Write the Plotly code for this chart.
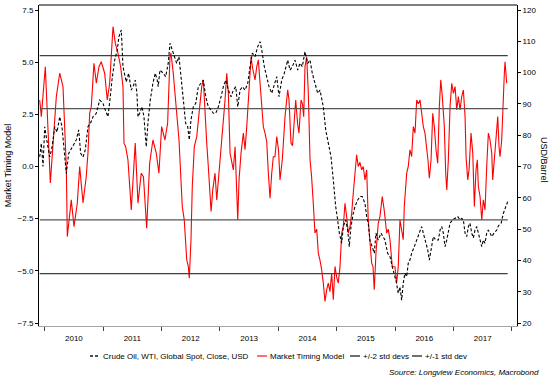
import plotly.graph_objects as go
from datetime import datetime

# ---------------- data ----------------
# time expressed as decimal years
mtm_time = [2009.914, 2009.942, 2010.010, 2010.096, 2010.199, 2010.257, 2010.313, 2010.370, 2010.387, 2010.455,
            2010.502, 2010.558, 2010.599, 2010.627, 2010.656, 2010.712, 2010.741, 2010.771, 2010.798, 2010.844,
            2010.884, 2010.930, 2010.969, 2011.027, 2011.072, 2011.113, 2011.170, 2011.209, 2011.255, 2011.301,
            2011.341, 2011.358, 2011.387, 2011.426, 2011.483, 2011.551, 2011.598, 2011.654, 2011.692, 2011.747,
            2011.798, 2011.854, 2011.911, 2011.957, 2012.003, 2012.060, 2012.106, 2012.146, 2012.163, 2012.202,
            2012.260, 2012.300, 2012.356, 2012.390, 2012.432, 2012.459, 2012.476, 2012.505, 2012.527, 2012.562,
            2012.603, 2012.659, 2012.688, 2012.716, 2012.745, 2012.774, 2012.801, 2012.830, 2012.848, 2012.877,
            2012.916, 2012.945, 2012.985, 2013.031, 2013.087, 2013.116, 2013.144, 2013.173, 2013.229, 2013.259,
            2013.288, 2013.305, 2013.327, 2013.361, 2013.401, 2013.430, 2013.459, 2013.486, 2013.533, 2013.555,
            2013.601, 2013.630, 2013.658, 2013.687, 2013.716, 2013.743, 2013.772, 2013.801, 2013.829, 2013.858,
            2013.887, 2013.914, 2013.943, 2013.973, 2014.003, 2014.029, 2014.068, 2014.115, 2014.161, 2014.183,
            2014.217, 2014.243, 2014.274, 2014.298, 2014.332, 2014.354, 2014.389, 2014.414, 2014.435, 2014.457,
            2014.486, 2014.514, 2014.543, 2014.568, 2014.599, 2014.628, 2014.658, 2014.685, 2014.714, 2014.743,
            2014.771, 2014.800, 2014.829, 2014.856, 2014.885, 2014.914, 2014.942, 2014.971, 2015.000, 2015.027,
            2015.057, 2015.086, 2015.113, 2015.142, 2015.171, 2015.199, 2015.228, 2015.257, 2015.284, 2015.313,
            2015.342, 2015.370, 2015.399, 2015.428, 2015.455, 2015.485, 2015.514, 2015.541, 2015.570, 2015.599,
            2015.622, 2015.644, 2015.673, 2015.712, 2015.741, 2015.781, 2015.815, 2015.856, 2015.884, 2015.913,
            2015.952, 2015.998, 2016.027, 2016.055, 2016.084, 2016.113, 2016.140, 2016.158, 2016.199, 2016.226,
            2016.255, 2016.284, 2016.312, 2016.341, 2016.370, 2016.397, 2016.426, 2016.455, 2016.483, 2016.512,
            2016.541, 2016.563, 2016.586, 2016.615, 2016.644, 2016.671, 2016.700, 2016.729, 2016.757, 2016.781,
            2016.808, 2016.842, 2016.866, 2016.884, 2016.911, 2016.940, 2016.969, 2016.997, 2017.026, 2017.055,
            2017.082, 2017.111, 2017.140, 2017.168, 2017.197, 2017.214, 2017.243, 2017.265, 2017.299, 2017.329,
            2017.356, 2017.385, 2017.407, 2017.425, 2017.454, 2017.483, 2017.510, 2017.539, 2017.568, 2017.596,
            2017.625, 2017.654, 2017.671, 2017.699, 2017.728, 2017.757, 2017.779, 2017.796, 2017.825, 2017.842,
            2017.870, 2017.882, 2017.899, 2017.911]
mtm_value = [3.19, 2.39, 4.78, -0.79, 3.35, 4.47, 3.83, 0.00, -3.36, -1.60,
             -2.88, -1.76, 0.00, -0.96, -1.74, -0.48, 0.65, 2.57, 2.87, 4.95,
             3.99, 4.78, 5.02, 4.47, 3.19, 3.99, 6.70, 5.91, 5.43, 4.78,
             3.83, 1.12, 0.95, 0.32, -2.08, 1.12, -1.76, -0.32, -0.50, -2.96,
             0.16, 1.27, 0.64, -0.32, 1.91, 1.27, 2.09, 5.26, 5.43, 4.47,
             2.71, 1.27, -1.92, -2.56, -4.47, -4.79, -5.35, -3.51, -0.96, 0.95,
             1.43, 2.87, 3.83, 4.15, 2.39, 1.12, 0.00, -1.28, -2.16, -1.12,
             -0.32, -1.60, -0.32, 1.12, 3.19, 4.47, 3.51, 0.64, -0.16, 0.95,
             -0.96, -2.56, -0.64, 0.64, 1.60, 0.80, 1.91, 3.19, 5.26, 4.78,
             4.15, 4.78, 5.11, 3.99, 2.71, 1.91, 1.60, 1.20, -0.32, -1.52,
             -0.32, 0.47, 0.47, 1.43, 0.80, -0.64, 0.32, 2.39, 3.67, 3.20,
             1.12, 1.00, 2.23, 3.19, 2.00, 1.60, 3.19, 3.00, 2.39, 4.78,
             5.26, 3.51, 0.32, -0.40, -1.76, -3.19, -3.00, -4.15, -4.50, -4.95,
             -5.59, -6.47, -5.90, -5.59, -6.00, -5.11, -6.39, -4.79, -5.30, -5.59,
             -4.80, -3.19, -2.90, -1.76, -2.40, -3.19, -2.90, -2.24, -1.28, -0.16,
             0.56, 0.00, 0.20, -0.16, 0.00, -0.64, -0.16, -2.56, -3.83, -4.63,
             -4.80, -5.91, -4.15, -2.72, -2.40, -1.44, -2.10, -3.19, -3.00, -3.51,
             -4.79, -4.80, -5.59, -4.80, -2.56, -3.00, -3.51, -1.92, -0.32, 0.00,
             0.80, 0.48, 1.91, 1.60, 3.19, 3.00, 3.19, 2.55, 1.91, 1.60,
             0.95, 0.30, -0.56, 0.30, 2.55, 1.91, 0.80, 0.16, 2.87, 4.15,
             3.35, 1.91, -0.32, -1.12, 0.32, 2.87, 3.99, 3.50, 3.83, 2.71,
             3.35, 2.71, 3.35, 3.67, 2.39, 0.47, -0.64, -0.16, 1.60, 0.64,
             -1.92, -0.16, 0.32, -0.96, -1.44, -2.56, -1.60, -2.08, 0.00, 1.60,
             1.27, 0.64, -0.64, 0.32, 1.27, 2.39, 0.95, 0.47, 1.27, 2.87,
             4.47, 5.02, 4.30, 3.99]

oil_time = [2009.914, 2009.942, 2009.971, 2010.000, 2010.039, 2010.086, 2010.125, 2010.171, 2010.211, 2010.257,
            2010.296, 2010.330, 2010.370, 2010.411, 2010.450, 2010.502, 2010.541, 2010.582, 2010.616, 2010.656,
            2010.695, 2010.741, 2010.788, 2010.827, 2010.884, 2010.942, 2010.998, 2011.038, 2011.084, 2011.130,
            2011.152, 2011.199, 2011.243, 2011.272, 2011.312, 2011.341, 2011.370, 2011.397, 2011.438, 2011.483,
            2011.524, 2011.551, 2011.580, 2011.598, 2011.627, 2011.666, 2011.700, 2011.740, 2011.769, 2011.808,
            2011.854, 2011.894, 2011.928, 2011.945, 2011.974, 2012.031, 2012.072, 2012.116, 2012.146, 2012.185,
            2012.219, 2012.260, 2012.300, 2012.334, 2012.373, 2012.414, 2012.449, 2012.476, 2012.505, 2012.545,
            2012.586, 2012.630, 2012.676, 2012.716, 2012.757, 2012.801, 2012.848, 2012.887, 2012.928, 2012.973,
            2013.019, 2013.058, 2013.099, 2013.144, 2013.190, 2013.229, 2013.271, 2013.305, 2013.344, 2013.384,
            2013.430, 2013.476, 2013.515, 2013.555, 2013.601, 2013.647, 2013.687, 2013.716, 2013.760, 2013.801,
            2013.841, 2013.887, 2013.926, 2013.973, 2014.012, 2014.058, 2014.103, 2014.161, 2014.200, 2014.240,
            2014.286, 2014.332, 2014.371, 2014.411, 2014.457, 2014.503, 2014.543, 2014.582, 2014.628, 2014.675,
            2014.714, 2014.743, 2014.771, 2014.812, 2014.856, 2014.903, 2014.942, 2014.983, 2015.017, 2015.045,
            2015.086, 2015.113, 2015.154, 2015.188, 2015.216, 2015.245, 2015.284, 2015.313, 2015.360, 2015.399,
            2015.438, 2015.485, 2015.514, 2015.541, 2015.570, 2015.610, 2015.644, 2015.673, 2015.712, 2015.759,
            2015.798, 2015.827, 2015.873, 2015.913, 2015.952, 2015.998, 2016.027, 2016.044, 2016.055, 2016.084,
            2016.113, 2016.140, 2016.169, 2016.199, 2016.226, 2016.255, 2016.284, 2016.329, 2016.370, 2016.410,
            2016.455, 2016.483, 2016.524, 2016.558, 2016.586, 2016.615, 2016.654, 2016.695, 2016.740, 2016.769,
            2016.798, 2016.825, 2016.854, 2016.884, 2016.911, 2016.940, 2016.980, 2017.026, 2017.072, 2017.111,
            2017.140, 2017.168, 2017.197, 2017.226, 2017.253, 2017.282, 2017.311, 2017.339, 2017.368, 2017.397,
            2017.425, 2017.454, 2017.483, 2017.510, 2017.539, 2017.568, 2017.596, 2017.625, 2017.654, 2017.693,
            2017.740, 2017.767, 2017.815, 2017.853, 2017.894, 2017.928]
oil_price = [73.1, 77.4, 70.0, 82.7, 78.0, 73.1, 76.0, 82.7, 81.0, 85.9,
             82.7, 76.3, 67.8, 74.2, 75.5, 77.4, 78.5, 81.7, 74.2, 73.0,
             75.3, 82.7, 84.0, 85.9, 87.0, 91.2, 90.2, 88.0, 85.9, 93.4,
             97.6, 104.0, 107.2, 111.5, 113.6, 101.9, 99.8, 97.0, 99.8, 94.4,
             96.0, 97.6, 93.4, 85.9, 87.0, 89.1, 86.0, 76.3, 84.0, 91.2,
             96.6, 99.8, 97.6, 95.5, 100.8, 99.8, 98.7, 103.0, 109.4, 107.0,
             105.1, 103.0, 105.1, 98.7, 91.2, 83.8, 82.7, 78.5, 84.9, 89.1,
             90.2, 95.5, 96.6, 97.6, 92.3, 89.1, 88.0, 87.0, 87.0, 89.1,
             92.3, 95.5, 97.6, 94.4, 92.3, 94.4, 95.5, 89.1, 94.4, 95.5,
             94.4, 96.6, 101.9, 106.2, 105.1, 108.3, 109.9, 107.2, 101.9, 98.7,
             95.5, 93.4, 95.5, 98.7, 92.3, 97.6, 99.8, 104.0, 100.8, 101.9,
             104.0, 100.8, 103.0, 101.9, 106.7, 102.9, 104.0, 99.8, 96.6, 93.4,
             94.4, 91.2, 89.1, 81.7, 77.4, 73.1, 65.7, 57.2, 52.9, 48.7,
             45.5, 50.8, 52.9, 49.7, 44.4, 50.8, 55.0, 57.2, 59.3, 60.4,
             60.4, 58.2, 54.0, 51.9, 46.5, 44.4, 42.3, 48.7, 46.5, 48.7,
             47.6, 46.5, 42.3, 41.2, 38.0, 34.8, 32.7, 30.5, 29.5, 31.5,
             27.3, 32.7, 35.9, 34.8, 39.1, 40.1, 42.3, 44.4, 46.5, 48.7,
             50.8, 48.7, 45.5, 43.4, 40.1, 43.4, 47.6, 46.5, 46.5, 49.7,
             50.8, 48.7, 44.4, 46.5, 48.7, 51.9, 52.9, 53.4, 54.0, 52.9,
             53.4, 52.9, 48.7, 47.6, 50.8, 51.9, 48.7, 47.2, 49.7, 50.8,
             48.7, 46.5, 44.4, 46.5, 45.5, 48.7, 49.7, 48.7, 47.6, 48.7,
             49.7, 51.0, 51.9, 55.0, 57.2, 58.8]

std2_levels = [5.31, -5.13]   # +/-2 std devs (market timing model units)
std1_levels = [2.77, -2.56]   # +/-1 std dev

left_ticks = [-7.5, -5.0, -2.5, 0.0, 2.5, 5.0, 7.5]
right_ticks = [20, 30, 40, 50, 60, 70, 80, 90, 100, 110, 120]

oil_name = "Crude Oil, WTI, Global Spot, Close, USD"
mtm_name = "Market Timing Model"
std2_name = "+/-2 std devs"
std1_name = "+/-1 std dev"
source_text = "Source: Longview Economics, Macrobond"


def to_date(t):
    y = int(t)
    start = datetime(y, 1, 1)
    end = datetime(y + 1, 1, 1)
    return start + (end - start) * (t - y)


mtm_dates = [to_date(t) for t in mtm_time]
oil_dates = [to_date(t) for t in oil_time]
line_start, line_end = oil_dates[0], oil_dates[-1]

OIL_COLOR = "#000000"
MTM_COLOR = "#ff0000"
STD2_COLOR = "#404040"
STD1_COLOR = "#555555"


def hline_trace(levels, name, color):
    xs, ys = [], []
    for lv in levels:
        xs += [line_start, line_end, None]
        ys += [lv, lv, None]
    return go.Scatter(x=xs, y=ys, mode="lines", name=name, yaxis="y",
                      line=dict(color=color, width=1.3), hoverinfo="skip")


FONT = "Liberation Sans, Arial, sans-serif"

fig = go.Figure()
fig.add_trace(go.Scatter(x=mtm_dates, y=mtm_value, mode="lines", name=mtm_name, yaxis="y",
                         line=dict(color=MTM_COLOR, width=1.1)))
fig.add_trace(hline_trace(std2_levels, std2_name, STD2_COLOR))
fig.add_trace(hline_trace(std1_levels, std1_name, STD1_COLOR))
fig.add_trace(go.Scatter(x=oil_dates, y=oil_price, mode="lines", name=oil_name, yaxis="y2",
                         line=dict(color=OIL_COLOR, width=1.1, dash="3px,2px")))

# ---- legend drawn below the axis (compact symbols as in the original) ----
legend_items = [  # (name, colour, dash, symbol x0 in paper units)
    (oil_name, "#505050", "3px,2px", 0.1067),
    (mtm_name, "#ff7070", "solid", 0.4561),
    (std2_name, "#707070", "solid", 0.6506),
    (std1_name, "#707070", "solid", 0.7803),
]
LEG_Y = -0.0935
SYM_W = 0.021
shapes = [dict(type="line", xref="paper", yref="paper", x0=0, x1=1, y0=1, y1=1,
               line=dict(color="#000000", width=1))]
annotations = []
for name, col, dash, x0 in legend_items:
    shapes.append(dict(type="line", xref="paper", yref="paper", x0=x0, x1=x0 + SYM_W,
                       y0=LEG_Y, y1=LEG_Y, line=dict(color=col, width=2, dash=dash)))
    annotations.append(dict(text=name, xref="paper", yref="paper", x=x0 + SYM_W + 0.002, y=LEG_Y,
                            xanchor="left", yanchor="middle", showarrow=False,
                            font=dict(size=8, color="#000000")))

annotations.append(dict(text="USD/Barrel", xref="paper", yref="paper", x=1.0565, y=0.517,
                        xanchor="center", yanchor="middle", textangle=90, showarrow=False,
                        font=dict(size=9, color="#000000")))
annotations.append(dict(text="<i>" + source_text + "</i>", xref="paper", yref="paper",
                        x=1.05, y=-0.146, xanchor="right", yanchor="middle", showarrow=False,
                        font=dict(size=8, color="#000000")))

fig.update_layout(
    width=557, height=385,
    margin=dict(l=39, r=40, t=5, b=59, autoexpand=False),
    paper_bgcolor="white", plot_bgcolor="white",
    font=dict(family=FONT, size=8, color="#000000"),
    showlegend=False,
    xaxis=dict(type="date", range=[to_date(2009.902), to_date(2018.087)],
               dtick="M12", tick0="2010-01-01", ticklabelmode="period",
               tickformat="%Y", ticks="outside", ticklen=4, tickcolor="#404040",
               showline=True, linecolor="#a6a6a6", linewidth=1,
               showgrid=False, zeroline=False, tickfont=dict(size=8)),
    yaxis=dict(range=[-7.644, 7.74], tickvals=left_ticks, tickformat=".1f",
               ticks="outside", ticklen=3, tickcolor="#000000",
               showline=True, linecolor="#000000", linewidth=1,
               showgrid=False, zeroline=False, tickfont=dict(size=8),
               title=dict(text="Market Timing Model", font=dict(size=9), standoff=4)),
    yaxis2=dict(range=[19.04, 121.6], tickvals=right_ticks, overlaying="y", side="right",
                ticks="outside", ticklen=3, tickcolor="#000000",
                showline=True, linecolor="#000000", linewidth=1,
                showgrid=False, zeroline=False, tickfont=dict(size=8)),
    shapes=shapes,
    annotations=annotations,
)

# page body without the browser's default 8px margin, so the 557x385 figure fills the window
fig.write_html("out.html", config={"displayModeBar": False},
               post_script="document.body.style.margin='0';")
